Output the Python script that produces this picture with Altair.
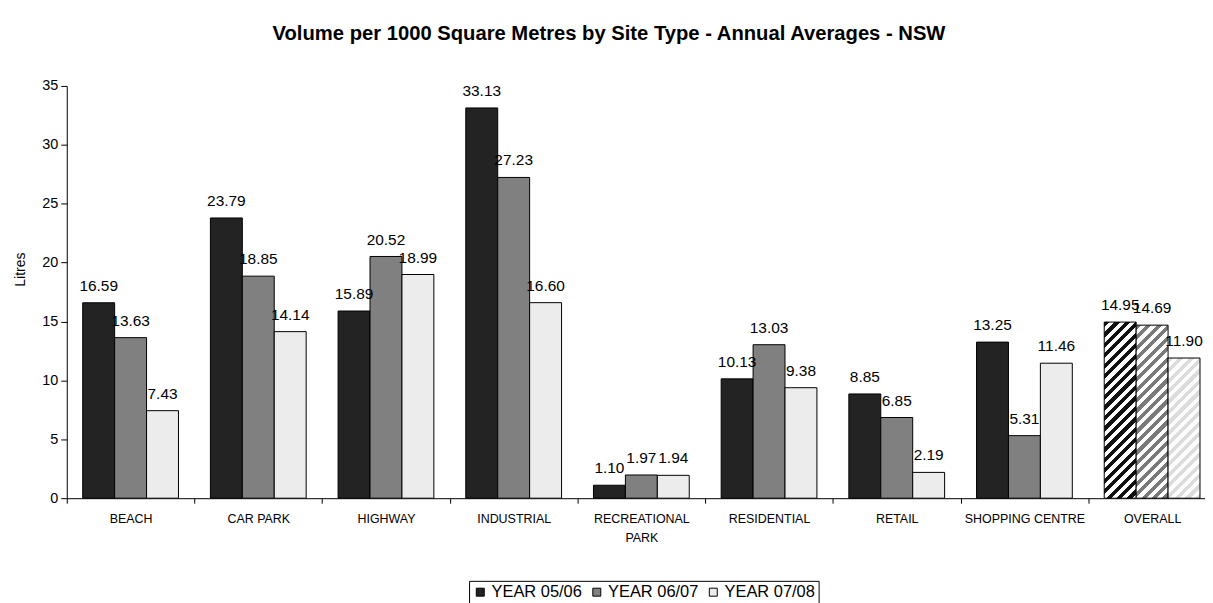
import math
import altair as alt
import pandas as pd

# ---------------- data ----------------
sites = ["BEACH", "CAR PARK", "HIGHWAY", "INDUSTRIAL", "RECREATIONAL PARK",
         "RESIDENTIAL", "RETAIL", "SHOPPING CENTRE", "OVERALL"]
years = ["YEAR 05/06", "YEAR 06/07", "YEAR 07/08"]
y0506 = [16.59, 23.79, 15.89, 33.13, 1.10, 10.13, 8.85, 13.25, 14.95]
y0607 = [13.63, 18.85, 20.52, 27.23, 1.97, 13.03, 6.85, 5.31, 14.69]
y0708 = [7.43, 14.14, 18.99, 16.60, 1.94, 9.38, 2.19, 11.46, 11.90]
y_ticks = [0, 5, 10, 15, 20, 25, 30, 35]

colors = ["#232323", "#808080", "#ececec"]
hatch_colors = ["#111111", "#7a7a7a", "#dcdcdc"]

rows = []
for yr, vals in zip(years, [y0506, y0607, y0708]):
    for s, v in zip(sites, vals):
        rows.append({"site": s, "year": yr, "value": v})
df = pd.DataFrame(rows)

# ---------------- layout ----------------
FONT = "Liberation Sans"
PLOT_W = 1143
PLOT_H = 414
RANGE_W = 1154
Y_MAX = 35
BAR_W = RANGE_W / len(sites) / 4.0


def hatch(color, value):
    h = value / Y_MAX * PLOT_H
    w = BAR_W
    r = w / h
    s = (r + 1) / (r * r + 1)
    n = (w + h) / 10.5
    stops = []
    k = 0
    while k / n < 1:
        a = k / n
        b = min((k + 0.5) / n, 1.0)
        c = min((k + 1) / n, 1.0)
        stops += [alt.GradientStop(offset=a, color=color),
                  alt.GradientStop(offset=b, color=color),
                  alt.GradientStop(offset=b, color="#ffffff"),
                  alt.GradientStop(offset=c, color="#ffffff")]
        k += 1
    return alt.LinearGradient(gradient="linear", stops=stops,
                              x1=0, y1=0, x2=s * r, y2=s)


x_enc = alt.X("site:N", sort=sites,
              scale=alt.Scale(domain=sites, paddingInner=0, paddingOuter=0,
                              range=[0, RANGE_W]),
              axis=alt.Axis(title=None, labelAngle=0, tickBand="extent", grid=False,
                            labelFontSize=12.5, labelFont=FONT, labelColor="black",
                            labelPadding=9, tickSize=5, tickColor="black",
                            domainColor="black", labelLineHeight=20,
                            labelExpr="datum.value == 'RECREATIONAL PARK' ? ['RECREATIONAL', 'PARK'] : datum.label"))
xo_enc = alt.XOffset("year:N", sort=years,
                     scale=alt.Scale(domain=years, paddingOuter=0.5, paddingInner=0))
y_enc = alt.Y("value:Q",
              scale=alt.Scale(domain=[0, Y_MAX], nice=False),
              axis=alt.Axis(title="Litres", values=y_ticks, grid=False,
                            labelFontSize=14.5, labelFont=FONT, labelColor="black",
                            tickSize=6, tickColor="black", domainColor="black",
                            labelPadding=3, titleFont=FONT, titleFontSize=14,
                            titleFontWeight="normal", titleColor="black",
                            titleX=-46, titleY=184, titleAngle=270,
                            titleBaseline="middle", titleAlign="center"))

base = alt.Chart(df)

bars = base.transform_filter(alt.datum.site != "OVERALL").mark_bar(
    stroke="black", strokeWidth=1
).encode(
    x=x_enc, xOffset=xo_enc, y=y_enc,
    color=alt.Color("year:N", sort=years,
                    scale=alt.Scale(domain=years, range=colors),
                    legend=alt.Legend(title=None, orient="none", direction="horizontal",
                                      legendX=404, legendY=497,
                                      symbolType="square", symbolSize=64,
                                      symbolStrokeColor="black", symbolStrokeWidth=1,
                                      labelFontSize=16.5, labelFont=FONT, labelColor="black",
                                      labelOffset=3, columnPadding=6,
                                      strokeColor="black", fillColor="white",
                                      padding=3, cornerRadius=0))
)

overall_layers = []
overall_vals = [y0506[-1], y0607[-1], y0708[-1]]
for yr, hc, v in zip(years, hatch_colors, overall_vals):
    overall_layers.append(
        base.transform_filter(
            (alt.datum.site == "OVERALL") & (alt.datum.year == yr)
        ).mark_bar(fill=hatch(hc, v), stroke="black", strokeWidth=1).encode(
            x=x_enc, xOffset=xo_enc, y=y_enc
        )
    )

labels = base.mark_text(baseline="alphabetic", dy=-12, fontSize=15.5,
                        font=FONT, color="black").encode(
    x=x_enc, xOffset=xo_enc, y=y_enc,
    text=alt.Text("value:Q", format=".2f")
)

chart = alt.layer(bars, *overall_layers, labels).properties(
    width=PLOT_W, height=PLOT_H,
    background="white",
    title=alt.TitleParams("Volume per 1000 Square Metres by Site Type - Annual Averages - NSW",
                          font=FONT, fontSize=20.3, fontWeight="bold", color="black",
                          anchor="middle", frame="group", dx=-27, offset=34),
    autosize=alt.AutoSizeParams(type="none"),
    padding={"left": 59, "top": 77, "right": 0, "bottom": 104}
).configure_view(stroke=None).configure_axis(grid=False)

chart.save("out.html", embed_options={"renderer": "svg", "actions": False})
